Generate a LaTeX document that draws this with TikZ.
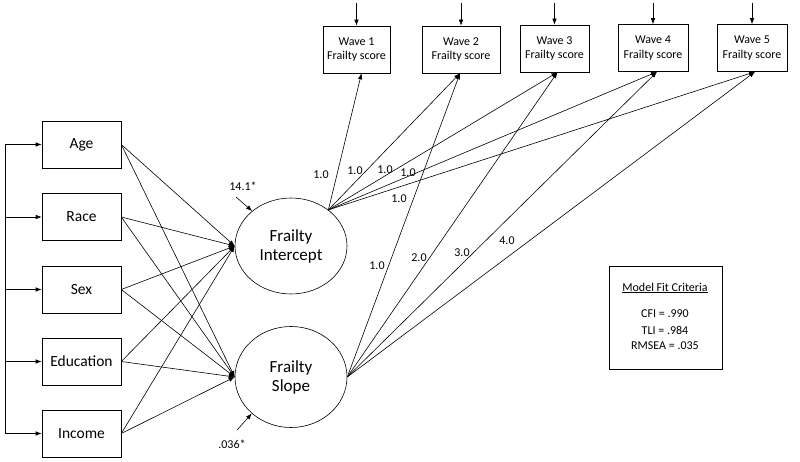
\documentclass[tikz,border=0pt]{standalone}
\usepackage{fontspec}
\setmainfont{Carlito}
\usetikzlibrary{arrows.meta,shapes.geometric}
\begin{document}
\begin{tikzpicture}[x=1pt,y=-1pt,
  line width=0.6pt,
  arr/.style={-{Latex[length=6pt,width=4.5pt]}},
  predbox/.style={draw,rectangle,minimum width=79pt,minimum height=47pt,inner sep=0pt,font=\fontsize{15.5}{18}\selectfont},
  wavebox/.style={draw,rectangle,minimum height=47pt,inner sep=0pt,align=center,font=\fontsize{12}{14.3}\selectfont},
  latent/.style={draw,ellipse,minimum width=112pt,inner sep=0pt,align=center,font=\fontsize{17}{19}\selectfont},
  lbl/.style={inner sep=0pt,font=\fontsize{12}{14}\selectfont},
  fitlbl/.style={inner sep=0pt,font=\fontsize{12}{14}\selectfont}
]
\useasboundingbox (0,0) rectangle (800,462);
% predictors
\node[predbox] (age) at (81.5,144.5) {Age};
\node[predbox] (race) at (81.5,217) {Race};
\node[predbox] (sex) at (81.5,289.5) {Sex};
\node[predbox] (edu) at (81.5,361.5) {Education};
\node[predbox] (inc) at (81.5,433.5) {Income};
% left bracket
\coordinate (b1) at (5,144.5);
\coordinate (b2) at (5,217);
\coordinate (b3) at (5,289.5);
\coordinate (b4) at (5,361.5);
\coordinate (b5) at (5,433.5);
\draw (b1) -- (b5);
\foreach \b/\n in {b1/age,b2/race,b3/sex,b4/edu,b5/inc}{\draw[arr] (\b) -- (\n.west);}
% latent
\node[latent,minimum height=96pt] (int) at (291,246) {Frailty\\Intercept};
\node[latent,minimum height=101pt] (slo) at (291,377) {Frailty\\Slope};
% waves
\node[wavebox,minimum width=67pt] (w1) at (356.5,49.5) {Wave 1\\Frailty score};
\node[wavebox,minimum width=78pt] (w2) at (461,49.5) {Wave 2\\Frailty score};
\node[wavebox,minimum width=69pt] (w3) at (554.5,48.5) {Wave 3\\Frailty score};
\node[wavebox,minimum width=70pt] (w4) at (653,48) {Wave 4\\Frailty score};
\node[wavebox,minimum width=70pt] (w5) at (752,48) {Wave 5\\Frailty score};
% residual arrows on waves
\foreach \w in {w1,w2,w3,w4,w5}{
  \coordinate (\w t) at (\w.north |- 0,3);
  \draw[arr] (\w t) -- (\w.north);
}
% predictor paths
\foreach \n in {age,race,sex,edu,inc}{
  \draw[arr] (\n.east) -- (int.west);
  \draw[arr] (\n.east) -- (slo.west);
}
% loadings
\coordinate (is) at (int.44);
\coordinate (ss) at (slo.east);
\coordinate (t1) at ([xshift=5pt]w1.south);
\coordinate (t2) at ([xshift=-1pt]w2.south);
\coordinate (t3) at ([xshift=3pt]w3.south);
\coordinate (t4) at ([xshift=4pt]w4.south);
\coordinate (t5) at ([xshift=3pt]w5.south);
\foreach \t in {t1,t2,t3,t4,t5}{\draw[arr] (is) -- (\t);}
\foreach \t in {t2,t3,t4,t5}{\draw[arr] (ss) -- (\t);}
% loading labels
\node[lbl] (l1) at (321,175) {1.0};
\node[lbl] (l2) at (355,171) {1.0};
\node[lbl] (l3) at (385,170) {1.0};
\node[lbl] (l4) at (408,173) {1.0};
\node[lbl] (l5) at (399,199) {1.0};
\node[lbl] (s2) at (377,266) {1.0};
\node[lbl] (s3) at (419,258) {2.0};
\node[lbl] (s4) at (462,253) {3.0};
\node[lbl] (s5) at (507,241) {4.0};
% variances
\node[lbl] (vi) at (243,186) {14.1*};
\coordinate (vis) at (236,197);
\draw[arr] (vis) -- (int.138);
\node[lbl] (vs) at (232,444) {.036*};
\coordinate (vss) at (237,430);
\draw[arr] (vss) -- (slo.223);
% model fit
\node[draw,rectangle,minimum width=113pt,minimum height=103pt,inner sep=0pt] (fit) at (665.5,317.5) {};
\node[fitlbl] (f0) at (665,288) {\underline{Model Fit Criteria}};
\node[fitlbl] (f1) at (665,314) {CFI = .990};
\node[fitlbl] (f2) at (665,330) {TLI = .984};
\node[fitlbl] (f3) at (665,346) {RMSEA = .035};
\end{tikzpicture}
\end{document}
